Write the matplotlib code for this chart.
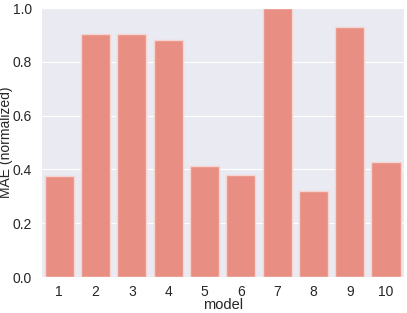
import numpy as np
import pandas as pd
import matplotlib
matplotlib.use('Agg')
import matplotlib.pyplot as plt
import seaborn as sns

models = ['1', '2', '3', '4', '5', '6', '7', '8', '9', '10']
mae_norm = [0.377, 0.905, 0.902, 0.880, 0.414, 0.380, 1.0, 0.320, 0.929, 0.429]

sns.set_style('darkgrid')
plt.rcParams['font.family'] = ['Liberation Sans', 'DejaVu Sans']

fig = plt.figure(figsize=(4.07, 3.13), dpi=100)
ax = fig.add_axes([0.101, 0.115, 0.892, 0.859])

df = pd.DataFrame({'model': models, 'MAE (normalized)': mae_norm})
sns.barplot(data=df, x='model', y='MAE (normalized)', color='salmon',
            edgecolor='#f5d5d0', linewidth=1.0, ax=ax)

ax.set_ylim(0, 1.0)
ax.set_xlim(-0.5, 9.5)
ax.set_yticks([0.0, 0.2, 0.4, 0.6, 0.8, 1.0])
ax.tick_params(axis='y', labelsize=10, pad=2.9)
ax.tick_params(axis='x', labelsize=10, pad=2.5)
ax.set_xlabel('model', fontsize=10.5, labelpad=-1)
ax.set_ylabel('MAE (normalized)', fontsize=10, labelpad=0)

fig.savefig('out.png', dpi=100)
